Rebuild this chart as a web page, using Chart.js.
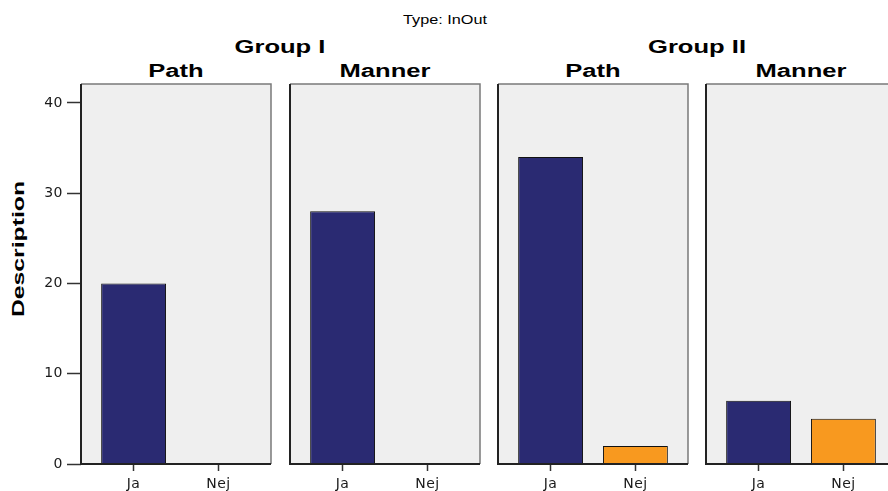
<!DOCTYPE html>
<html>
<head>
<meta charset="utf-8">
<script src="https://cdn.jsdelivr.net/npm/chart.js@4.4.0/dist/chart.umd.min.js"></script>
<style>
  html, body { margin: 0; padding: 0; background: #fff; overflow: hidden; width: 888px; height: 491px; }
  canvas { position: absolute; }
  .lbl { position: absolute; font-family: "Liberation Sans", Arial, sans-serif; color: #000; white-space: nowrap; line-height: 1; }
  .strip { font-weight: bold; font-size: 18px; transform: translate(-50%, -50%) scaleX(1.42); }
</style>
</head>
<body>
<script>
// data
var categories = ["Ja", "Nej"];
var groups = ["Group I", "Group II"];
var types = ["Path", "Manner"];
var groupIPath = [20, 0];
var groupIManner = [28, 0];
var groupIIPath = [34, 2];
var groupIIManner = [7, 5];
var yTicks = [0, 10, 20, 30, 40];
var yTitle = "Description";
var mainTitle = "Type: InOut";

var barColors = ["#2a2a72", "#f8991f"];
var panelValues = [groupIPath, groupIManner, groupIIPath, groupIIManner];

// layout
var panelLeft = [81, 289.5, 498, 706];
var panelW = 190;
var panelTop = 84;

function addLabel(text, x, y, cls, style) {
  var d = document.createElement("div");
  d.className = "lbl " + cls;
  d.textContent = text;
  d.style.left = x + "px";
  d.style.top = y + "px";
  if (style) d.style.cssText += style;
  document.body.appendChild(d);
}

addLabel(mainTitle, 445, 19.5, "", "font-size:12.5px;transform:translate(-50%,-50%) scaleX(1.3);");
addLabel(yTitle, 18, 248.5, "", "font-size:16.5px;font-weight:bold;transform:translate(-50%,-50%) rotate(-90deg) scaleX(1.5);");
for (var g = 0; g < groups.length; g++) {
  var gl = panelLeft[g * 2], gr = panelLeft[g * 2 + 1] + panelW;
  addLabel(groups[g], (gl + gr) / 2, 46.5, "strip");
}
for (var p = 0; p < 4; p++) {
  addLabel(types[p % 2], panelLeft[p] + panelW / 2, 71, "strip");
}

var panelFrame = {
  id: "panelFrame",
  beforeDraw: function (chart) {
    var a = chart.chartArea, c = chart.ctx;
    c.letterSpacing = "0.5px";
    c.save();
    c.fillStyle = "#efefef";
    c.fillRect(a.left, a.top, a.right - a.left, a.bottom - a.top);
    c.restore();
  },
  afterDatasetsDraw: function (chart) {
    var a = chart.chartArea, c = chart.ctx;
    c.save();
    c.lineWidth = 1.5;
    c.strokeStyle = "#7a7a7a";
    c.beginPath();
    c.moveTo(a.left, a.top);
    c.lineTo(a.right, a.top);
    c.lineTo(a.right, a.bottom);
    c.stroke();
    c.lineWidth = 2;
    c.strokeStyle = "#222";
    c.beginPath();
    c.moveTo(a.left, a.top);
    c.lineTo(a.left, a.bottom);
    c.lineTo(a.right, a.bottom);
    c.stroke();
    c.restore();
  }
};

var tickFont = { family: "DejaVu Sans", size: 14 };

for (var i = 0; i < 4; i++) {
  var first = i === 0;
  var axisW = first ? 81 : 0;
  var padL = first ? 0 : 2;
  var canvas = document.createElement("canvas");
  var w = axisW + padL + panelW + 2;
  var h = 491 - (panelTop - 2);
  canvas.width = w;
  canvas.height = h;
  canvas.style.left = (panelLeft[i] - axisW - padL) + "px";
  canvas.style.top = (panelTop - 2) + "px";
  canvas.style.width = w + "px";
  canvas.style.height = h + "px";
  document.body.appendChild(canvas);

  var points = categories.map(function (c, j) { return { x: j + 1, y: panelValues[i][j] }; });

  new Chart(canvas.getContext("2d"), {
    type: "bar",
    plugins: [panelFrame],
    data: {
      datasets: [{
        data: points,
        backgroundColor: barColors,
        borderColor: "#111",
        borderWidth: 1,
        barPercentage: 0.765,
        categoryPercentage: 1.0
      }]
    },
    options: {
      responsive: false,
      animation: false,
      devicePixelRatio: 1,
      layout: { padding: { left: padL, right: 2, top: 2, bottom: 0 } },
      plugins: { legend: { display: false }, tooltip: { enabled: false }, title: { display: false } },
      scales: {
        x: {
          type: "linear",
          min: 0.38,
          max: 2.62,
          offset: false,
          afterBuildTicks: function (s) {
            s.ticks = categories.map(function (c, j) { return { value: j + 1 }; });
          },
          grid: { offset: false, drawOnChartArea: false, tickLength: 7, tickColor: "#333", tickWidth: 1.5 },
          border: { display: false },
          ticks: {
            padding: 5,
            font: tickFont,
            color: "#1a1a1a",
            maxRotation: 0,
            callback: function (v) { return categories[v - 1]; }
          },
          afterFit: function (s) { s.height = 27; s.paddingLeft = 0; s.paddingRight = 0; }
        },
        y: {
          display: first,
          min: 0,
          max: 42.1,
          afterBuildTicks: function (s) {
            s.ticks = yTicks.map(function (v) { return { value: v }; });
          },
          grid: { drawOnChartArea: false, tickLength: 14, tickColor: "#333", tickWidth: 1.5 },
          border: { display: false },
          ticks: { padding: 4, font: tickFont, color: "#1a1a1a" },
          afterFit: function (s) {
            s.width = first ? 81 : 0;
            s.paddingTop = 0;
            s.paddingBottom = 0;
          }
        }
      }
    }
  });
}
</script>
</body>
</html>
